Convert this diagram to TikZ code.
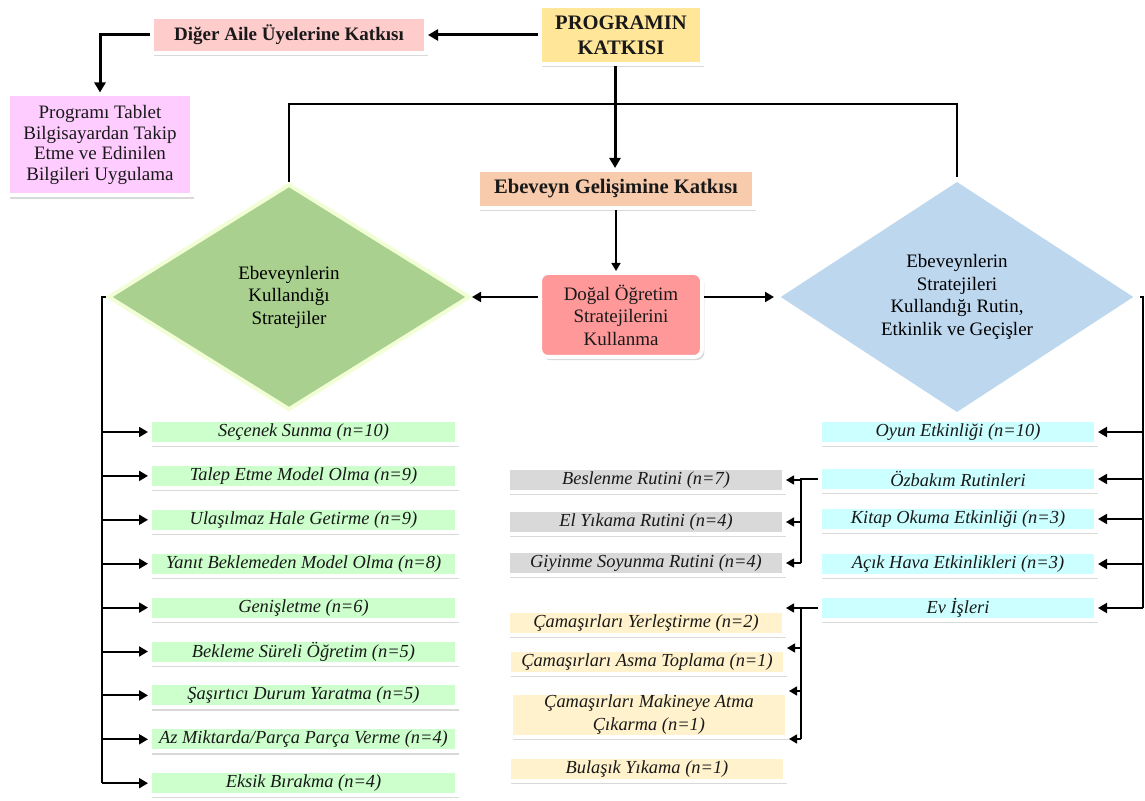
\documentclass[tikz,border=0pt]{standalone}
\usepackage{fontspec}
\setmainfont{Liberation Serif}
\usetikzlibrary{arrows.meta,shapes.geometric,shadows}

\definecolor{progyellow}{HTML}{FFE699}
\definecolor{digerpink}{HTML}{FFCCCC}
\definecolor{ailepink}{HTML}{FFCCFF}
\definecolor{ebgelpeach}{HTML}{F8CBAD}
\definecolor{dogalred}{HTML}{FF9999}
\definecolor{solgreen}{HTML}{A9D08E}
\definecolor{solborder}{HTML}{F2FFD6}
\definecolor{sagblue}{HTML}{BDD7EE}
\definecolor{strgreen}{HTML}{CCFFCC}
\definecolor{etkcyan}{HTML}{CCFFFF}
\definecolor{rutgray}{HTML}{D9D9D9}
\definecolor{evyellow}{HTML}{FFF2CC}

\begin{document}
\begin{tikzpicture}[x=0.5pt,y=-0.5pt,
  kutu/.style={draw=white, line width=2pt, inner sep=0pt, align=center, text=black!90,
    drop shadow={shadow xshift=1.2pt, shadow yshift=-1.6pt, opacity=0.3}},
  baslik/.style={kutu, font=\fontsize{10.3pt}{12.5pt}\selectfont\bfseries},
  metin/.style={kutu, font=\fontsize{9.5pt}{10.4pt}\selectfont},
  madde/.style={kutu, minimum width=138pt, minimum height=12pt, font=\fontsize{9.2pt}{10.5pt}\selectfont\itshape},
  strateji/.style={madde, fill=strgreen, minimum width=153.5pt},
  etkinlik/.style={madde, fill=etkcyan},
  rutin/.style={madde, fill=rutgray},
  isler/.style={madde, fill=evyellow},
  karo/.style={diamond, line width=2pt, inner sep=0pt, minimum width=181pt, minimum height=113pt,
    align=center, font=\fontsize{9.5pt}{11.25pt}\selectfont},
  kalin/.style={line width=1.5pt, -{Triangle[length=5pt, width=5.5pt]}},
  okucu/.style={line width=1pt, -{Triangle[length=4.5pt, width=5pt]}},
  ince/.style={line width=0.65pt},
  okince/.style={line width=0.7pt, -{Triangle[length=4pt, width=4.5pt]}}]
\useasboundingbox (0,0) rectangle (1145,801);

\node[baslik, fill=progyellow, minimum width=81pt, minimum height=29pt] (prog) at (621,35) {PROGRAMIN\\KATKISI};
\node[baslik, fill=digerpink, minimum width=137pt, minimum height=18pt, font=\fontsize{9.5pt}{11pt}\selectfont\bfseries] (diger) at (289,35) {Diğer Aile Üyelerine Katkısı};
\node[metin, fill=ailepink, minimum width=92pt, minimum height=50.5pt] (aile) at (100,145) {Programı Tablet\\Bilgisayardan Takip\\Etme ve Edinilen\\Bilgileri Uygulama};
\node[baslik, fill=ebgelpeach, minimum width=138pt, minimum height=19pt] (ebgel) at (616,189) {Ebeveyn Gelişimine Katkısı};
\node[metin, fill=dogalred, rounded corners=4pt, minimum width=81pt, minimum height=42pt, font=\fontsize{9.5pt}{11.25pt}\selectfont] (dogal) at (621,315) {Doğal Öğretim\\Stratejilerini\\Kullanma};
\node[karo, fill=solgreen, draw=solborder] (sol) at (289,297) {Ebeveynlerin\\Kullandığı\\Stratejiler};
\node[karo, fill=sagblue, draw=white] (sag) at (957,297) {Ebeveynlerin\\Stratejileri\\Kullandığı Rutin,\\Etkinlik ve Geçişler};

\foreach \ad [count=\i] in {Seçenek Sunma (n=10), Talep Etme Model Olma (n=9), Ulaşılmaz Hale Getirme (n=9),
  Yanıt Beklemeden Model Olma (n=8), Genişletme (n=6), Bekleme Süreli Öğretim (n=5),
  Şaşırtıcı Durum Yaratma (n=5), Az Miktarda/Parça Parça Verme (n=4), Eksik Bırakma (n=4)}
  \node[strateji] (s\i) at (303.5,{388.1+43.9*\i}) {\ad};

\node[etkinlik] (c1) at (958,432) {Oyun Etkinliği (n=10)};
\node[etkinlik] (c2) at (958,479) {Özbakım Rutinleri};
\node[etkinlik] (c3) at (958,519) {Kitap Okuma Etkinliği (n=3)};
\node[etkinlik] (c4) at (958,564) {Açık Hava Etkinlikleri (n=3)};
\node[etkinlik] (c5) at (958,608) {Ev İşleri};

\node[rutin] (k1) at (646,480) {Beslenme Rutini (n=7)};
\node[rutin] (k2) at (646,522) {El Yıkama Rutini (n=4)};
\node[rutin] (k3) at (646,563) {Giyinme Soyunma Rutini (n=4)};

\node[isler] (y1) at (646,623) {Çamaşırları Yerleştirme (n=2)};
\node[isler] (y2) at (647,662) {Çamaşırları Asma Toplama (n=1)};
\node[isler, minimum height=22pt, font=\fontsize{9.2pt}{11.5pt}\selectfont\itshape] (y3) at (649,715) {Çamaşırları Makineye Atma\\Çıkarma (n=1)};
\node[isler] (y4) at (647,769) {Bulaşık Yıkama (n=1)};

\draw[kalin] (prog.west) -- (prog.west -| diger.east);
\draw[kalin] (diger.west) -| (aile.north);
\draw[kalin] ([xshift=-3pt]prog.south) -- ([xshift=-3pt]prog.south |- ebgel.north);
\draw[ince] (sol.north) -- ++(0,-78) -| (sag.north);
\draw[okince, line width=0.75pt] (ebgel.south) -- (ebgel.south |- dogal.north);
\draw[okucu] (dogal.west |- sol.east) -- (sol.east);
\draw[okucu] (dogal.east |- sag.west) -- (sag.west);

\coordinate (solk) at (102,297);
\coordinate (sagk) at (1143,297);
\coordinate (oz) at (801,478);
\draw[line width=1pt] (sol.west) -- (solk) -- (solk |- s9.west);
\foreach \i in {1,...,9}
  \draw[okucu] (solk |- s\i.west) -- (s\i.west);
\draw[line width=1pt] (sag.east) -- (sagk) -- (sagk |- c5.east);
\foreach \i in {1,...,5}
  \draw[okucu] (sagk |- c\i.east) -- (c\i.east);

\draw[ince] (c2.west) -- (oz |- c2.west) -- (oz |- k3.east);
\foreach \i in {1,2,3}
  \draw[okince] (oz |- k\i.east) -- (k\i.east);
\draw[ince] (c5.west) -- (oz |- c5.west) -- (oz |- y3.south);
\draw[okince] (oz |- c5.west) -- (c5.west -| y1.east);
\draw[okince] (oz |- y2.north) -- (y2.north east);
\draw[okince] (oz |- y3.north) -- (y3.north east);
\draw[okince] (oz |- y3.south) -- (y3.south east);
\end{tikzpicture}
\end{document}
